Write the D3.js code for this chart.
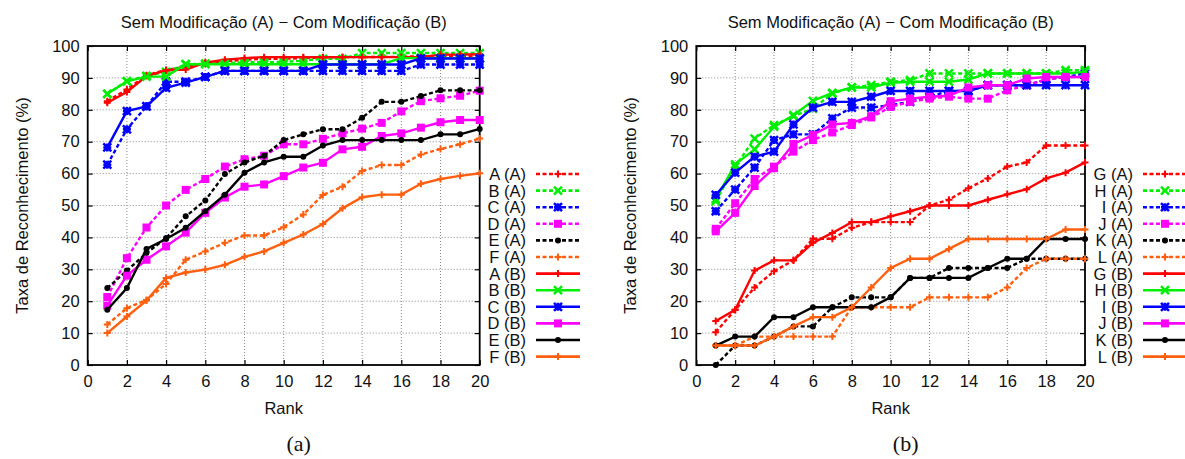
<!DOCTYPE html>
<html>
<head>
<meta charset="utf-8">
<script src="https://cdn.jsdelivr.net/npm/d3@7"></script>
<style>
  body { margin: 0; background: #fff; }
  svg { display: block; }
  text { font-family: "Liberation Sans", Arial, sans-serif; fill: #111; }
</style>
</head>
<body>
<div id="viz"></div>
<script>
// rank values on the x axis
var ranks = [1, 2, 3, 4, 5, 6, 7, 8, 9, 10, 11, 12, 13, 14, 15, 16, 17, 18, 19, 20];
var xTicks = [0, 2, 4, 6, 8, 10, 12, 14, 16, 18, 20];
var yTicks = [0, 10, 20, 30, 40, 50, 60, 70, 80, 90, 100];

// panel (a) -- sem modificacao (A)
var A_A = [82.7, 86.4, 90.8, 92.5, 93.5, 94.5, 95.2, 95.7, 96.0, 96.0, 96.2, 96.4, 96.5, 96.5, 96.6, 96.6, 96.8, 96.8, 96.8, 96.8];
var B_A = [85.0, 89.0, 90.6, 91.9, 94.2, 94.5, 94.6, 94.9, 94.9, 95.0, 95.4, 96.0, 96.0, 97.8, 97.8, 97.8, 97.8, 97.8, 97.8, 97.8];
var C_A = [62.8, 73.9, 81.1, 88.8, 88.8, 90.3, 92.2, 92.2, 92.2, 92.2, 92.2, 92.2, 92.2, 92.2, 92.2, 92.2, 94.2, 94.2, 94.2, 94.2];
var D_A = [21.3, 33.5, 43.1, 50.0, 54.9, 58.3, 62.2, 64.5, 65.6, 69.2, 69.2, 70.9, 72.6, 74.1, 75.9, 79.5, 82.7, 83.6, 84.4, 86.0];
var E_A = [24.1, 29.6, 35.1, 39.8, 46.6, 51.6, 59.9, 63.5, 65.6, 70.5, 72.3, 73.9, 73.9, 77.5, 82.5, 82.5, 84.3, 86.1, 86.1, 86.1];
var F_A = [12.7, 17.8, 20.4, 25.4, 33.0, 35.6, 38.3, 40.6, 40.6, 43.2, 47.2, 53.3, 55.9, 60.8, 62.7, 62.7, 66.0, 67.7, 69.2, 71.0];
// panel (a) -- com modificacao (B)
var A_B = [82.2, 85.6, 90.6, 92.4, 92.6, 94.8, 95.7, 96.2, 96.5, 96.5, 96.5, 96.5, 96.5, 96.5, 96.5, 96.5, 96.5, 97.3, 97.3, 97.4];
var B_B = [85.0, 88.9, 90.4, 90.4, 94.3, 94.3, 94.3, 94.3, 94.3, 94.3, 94.3, 94.3, 94.3, 94.3, 94.3, 96.2, 96.2, 96.2, 96.2, 96.2];
var C_B = [68.2, 79.6, 81.1, 86.9, 88.5, 90.3, 92.2, 92.2, 92.2, 92.2, 92.2, 94.2, 94.2, 94.2, 94.2, 94.2, 96.1, 96.1, 96.1, 96.1];
var D_B = [18.6, 28.0, 33.0, 37.2, 41.5, 47.7, 52.5, 55.9, 56.6, 59.2, 61.9, 63.4, 67.6, 68.4, 71.8, 72.6, 74.4, 76.1, 76.8, 76.8];
var E_B = [17.3, 24.1, 36.4, 39.5, 43.0, 48.2, 53.4, 60.3, 63.5, 65.3, 65.3, 68.8, 70.5, 70.5, 70.5, 70.5, 70.5, 72.3, 72.3, 74.0];
var F_B = [10.0, 15.2, 20.2, 27.3, 29.0, 29.9, 31.4, 33.9, 35.6, 38.3, 40.9, 44.2, 49.1, 52.6, 53.4, 53.4, 56.8, 58.3, 59.3, 60.1];

// panel (b) -- sem modificacao (A)
var G_A = [10.3, 17.3, 24.3, 29.4, 32.8, 39.6, 39.6, 43.0, 44.8, 44.8, 44.8, 50.0, 51.8, 55.4, 58.5, 62.2, 63.5, 68.8, 68.8, 68.8];
var H_A = [51.4, 62.2, 71.0, 75.2, 78.0, 80.4, 85.1, 87.0, 87.7, 88.8, 89.3, 91.4, 91.4, 91.4, 91.4, 91.4, 91.4, 91.4, 92.4, 92.4];
var I_A = [48.2, 55.0, 61.9, 70.5, 72.3, 72.3, 77.3, 80.7, 80.7, 81.5, 82.5, 84.1, 85.9, 85.9, 87.7, 87.7, 87.7, 89.5, 90.3, 91.4];
var J_A = [42.7, 50.7, 58.3, 62.2, 66.9, 70.5, 72.9, 75.2, 77.6, 80.9, 82.5, 83.5, 84.1, 83.5, 83.5, 86.1, 87.7, 89.5, 90.3, 90.3];
var K_A = [0.0, 6.1, 6.1, 8.9, 12.1, 12.1, 18.1, 21.2, 21.2, 21.2, 27.3, 27.3, 30.4, 30.4, 30.4, 30.4, 33.3, 33.3, 33.3, 33.3];
var L_A = [6.1, 6.1, 8.9, 8.9, 8.9, 8.9, 8.9, 18.1, 18.1, 18.1, 18.1, 21.2, 21.2, 21.2, 21.2, 24.3, 30.4, 33.3, 33.3, 33.3];
// panel (b) -- com modificacao (B)
var G_B = [13.8, 17.3, 29.6, 32.8, 32.8, 38.3, 41.4, 44.8, 44.8, 46.6, 48.2, 50.0, 50.0, 50.0, 51.8, 53.5, 55.1, 58.5, 60.3, 63.5];
var H_B = [52.0, 62.9, 67.6, 74.7, 78.3, 82.8, 85.3, 87.0, 87.0, 88.5, 88.8, 88.8, 88.8, 89.5, 91.4, 91.4, 91.4, 91.4, 91.4, 91.9];
var I_B = [53.3, 60.3, 65.3, 66.9, 75.4, 80.7, 82.5, 82.5, 84.1, 85.9, 85.9, 85.9, 85.9, 85.9, 87.7, 87.7, 87.7, 87.7, 87.7, 87.7];
var J_B = [41.9, 47.7, 56.1, 61.7, 69.3, 72.1, 75.4, 75.9, 78.0, 82.7, 83.5, 84.1, 84.4, 87.0, 87.7, 87.7, 89.8, 90.3, 90.3, 90.3];
var K_B = [6.1, 8.9, 8.9, 15.0, 15.0, 18.1, 18.1, 18.1, 18.1, 21.2, 27.3, 27.3, 27.3, 27.3, 30.4, 33.3, 33.3, 39.5, 39.5, 39.5];
var L_B = [6.1, 6.1, 6.1, 8.9, 12.1, 15.0, 15.0, 18.1, 24.3, 30.4, 33.3, 33.3, 36.4, 39.5, 39.5, 39.5, 39.5, 39.5, 42.5, 42.5];

var titleText = 'Sem Modificação (A) − Com Modificação (B)';

var colors = ['#ff0000', '#00ee00', '#0000ff', '#ff00ff', '#000000', '#ff5f0f'],
    markers = ['plus', 'cross', 'star', 'square', 'circle', 'plus'];

function seriesList(letters, setA, setB) {
    var out = [];
    for (var i = 0; i < 6; i++) {
        out.push({ name: letters[i] + ' (A)', values: setA[i], color: colors[i], dashed: true, marker: markers[i] });
    }
    for (var i = 0; i < 6; i++) {
        out.push({ name: letters[i] + ' (B)', values: setB[i], color: colors[i], dashed: false, marker: markers[i] });
    }
    return out;
}

var panels = [
    { left: 87.7, right: 479.7, legendX: 526, caption: '(a)',
      series: seriesList(['A', 'B', 'C', 'D', 'E', 'F'], [A_A, B_A, C_A, D_A, E_A, F_A], [A_B, B_B, C_B, D_B, E_B, F_B]) },
    { left: 696.3, right: 1085, legendX: 1133, caption: '(b)',
      series: seriesList(['G', 'H', 'I', 'J', 'K', 'L'], [G_A, H_A, I_A, J_A, K_A, L_A], [G_B, H_B, I_B, J_B, K_B, L_B]) }
];

var width = 1185, height = 459,
    plotTop = 46, plotBottom = 365; // "top" is reserved on window

var svg = d3.select('#viz').append('svg')
    .attr('width', width)
    .attr('height', height);

function drawMarker(g, type, cx, cy, color) {
    if (type == 'square') {
        g.append('rect').attr('x', cx - 4).attr('y', cy - 4).attr('width', 8).attr('height', 8).attr('fill', color);
    } else if (type == 'circle') {
        g.append('circle').attr('cx', cx).attr('cy', cy).attr('r', 3).attr('fill', color);
    } else {
        var s = type == 'plus' ? 3.5 : 4;
        var p = '';
        if (type == 'plus' || type == 'star') p += 'M' + (cx - s) + ',' + cy + 'h' + 2 * s + 'M' + cx + ',' + (cy - s) + 'v' + 2 * s;
        if (type == 'cross' || type == 'star') p += 'M' + (cx - s) + ',' + (cy - s) + 'l' + 2 * s + ',' + 2 * s + 'M' + (cx - s) + ',' + (cy + s) + 'l' + 2 * s + ',' + (-2 * s);
        g.append('path').attr('d', p).attr('stroke', color).attr('stroke-width', type == 'plus' ? 2 : 2.5).attr('fill', 'none');
    }
}

panels.forEach(function (panel) {
    var xScale = d3.scaleLinear().domain([0, 20]).range([panel.left, panel.right]);
    var yScale = d3.scaleLinear().domain([0, 100]).range([plotBottom, plotTop]);
    var g = svg.append('g');

    // grid
    g.append('g').selectAll('line').data(xTicks.slice(1, -1))
        .enter().append('line')
        .attr('x1', function (d) { return xScale(d); }).attr('x2', function (d) { return xScale(d); })
        .attr('y1', plotTop).attr('y2', plotBottom)
        .attr('stroke', '#8a8a8a').attr('stroke-width', 1).attr('stroke-dasharray', '1,2');
    g.append('g').selectAll('line').data(yTicks.slice(1, -1))
        .enter().append('line')
        .attr('y1', function (d) { return yScale(d); }).attr('y2', function (d) { return yScale(d); })
        .attr('x1', panel.left).attr('x2', panel.right)
        .attr('stroke', '#8a8a8a').attr('stroke-width', 1).attr('stroke-dasharray', '1,2');

    // axes
    g.append('g').attr('transform', 'translate(0,' + plotBottom + ')')
        .call(d3.axisBottom(xScale).tickValues(xTicks).tickSize(-5).tickPadding(10));
    g.append('g').attr('transform', 'translate(' + panel.left + ',0)')
        .call(d3.axisLeft(yScale).tickValues(yTicks).tickSize(-5).tickPadding(8));
    g.append('g').attr('transform', 'translate(0,' + plotTop + ')')
        .call(d3.axisTop(xScale).tickValues(xTicks).tickSize(-5).tickFormat(''));
    g.append('g').attr('transform', 'translate(' + panel.right + ',0)')
        .call(d3.axisRight(yScale).tickValues(yTicks).tickSize(-5).tickFormat(''));
    g.selectAll('.domain').remove();
    g.selectAll('.tick line').attr('stroke', '#000').attr('stroke-width', 1.2);
    g.selectAll('.tick text').style('font-size', '16.5px').style('font-family', '"Liberation Sans", Arial, sans-serif').attr('fill', '#111');

    g.append('rect')
        .attr('x', panel.left).attr('y', plotTop)
        .attr('width', panel.right - panel.left).attr('height', plotBottom - plotTop)
        .attr('fill', 'none').attr('stroke', '#000').attr('stroke-width', 1.8);

    // series
    var line = d3.line()
        .x(function (d, i) { return xScale(ranks[i]); })
        .y(function (d) { return yScale(d); });

    panel.series.forEach(function (s) {
        g.append('path')
            .attr('d', line(s.values))
            .attr('fill', 'none')
            .attr('stroke', s.color)
            .attr('stroke-width', 2.4)
            .attr('stroke-dasharray', s.dashed ? '4,2.5' : null);
        var mg = g.append('g');
        s.values.forEach(function (v, i) {
            drawMarker(mg, s.marker, xScale(ranks[i]), yScale(v), s.color);
        });
    });

    // legend
    var lg = g.append('g');
    panel.series.forEach(function (s, i) {
        var ly = 174 + i * 16.6;
        lg.append('text')
            .attr('x', panel.legendX).attr('y', ly).attr('dy', '0.36em')
            .attr('text-anchor', 'end').style('font-size', '16.5px')
            .text(s.name);
        lg.append('line')
            .attr('x1', panel.legendX + 10).attr('x2', panel.legendX + 54)
            .attr('y1', ly).attr('y2', ly)
            .attr('stroke', s.color).attr('stroke-width', 2.6)
            .attr('stroke-dasharray', s.dashed ? '4,2.5' : null);
        drawMarker(lg, s.marker, panel.legendX + 32, ly, s.color);
    });

    var cx = (panel.left + panel.right) / 2;
    g.append('text').attr('x', cx).attr('y', 28).attr('text-anchor', 'middle')
        .style('font-size', '16.5px').text(titleText);
    g.append('text').attr('x', cx).attr('y', 414).attr('text-anchor', 'middle')
        .style('font-size', '16.5px').text('Rank');
    g.append('text')
        .attr('transform', 'translate(' + (panel.left - 66) + ',' + ((plotTop + plotBottom) / 2) + ') rotate(-90)')
        .attr('text-anchor', 'middle').attr('dy', '0.36em')
        .style('font-size', '16.5px').text('Taxa de Reconhecimento (%)');
    g.append('text').attr('x', cx + 15).attr('y', 451).attr('text-anchor', 'middle')
        .style('font-family', '"Liberation Serif", "DejaVu Serif", serif').style('font-size', '22px')
        .text(panel.caption);
});
</script>
</body>
</html>
